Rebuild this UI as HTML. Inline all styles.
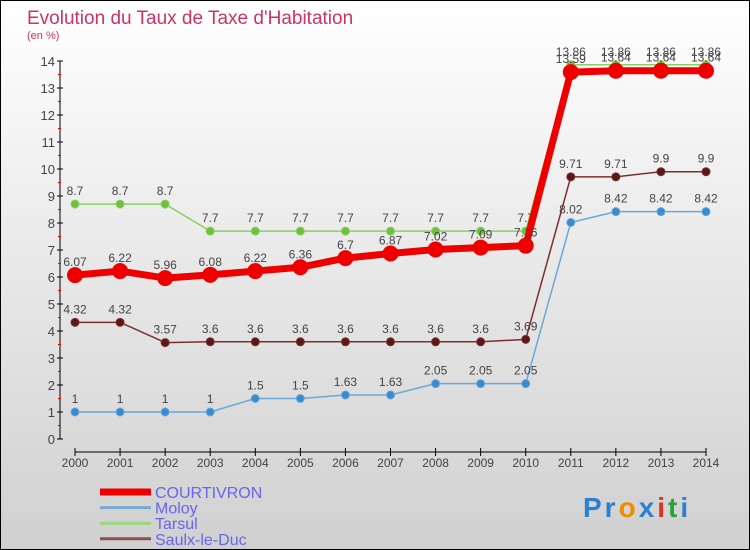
<!DOCTYPE html>
<html><head><meta charset="utf-8"><style>
body{margin:0;width:750px;height:550px;overflow:hidden;font-family:"Liberation Sans",sans-serif}
#wrap{position:relative;width:748px;height:548px;border:1px solid #000;background:linear-gradient(#ffffff,#d0d0d0)}
</style></head><body>
<div id="wrap">
<svg id="chart" width="750" height="550" style="position:absolute;left:-1px;top:-1px">
<text x="27" y="24" font-size="19" fill="#cc3366">Evolution du Taux de Taxe d'Habitation</text>
<text x="27" y="39" font-size="11" fill="#cc3366">(en %)</text>
<g id="axes"></g><g id="series"></g><g id="legend"></g>
<text x="583" y="517" font-size="28" font-weight="bold" letter-spacing="3"><tspan fill="#2a7fd4">Pr</tspan><tspan fill="#f08a00">o</tspan><tspan fill="#2a7fd4">x</tspan><tspan fill="#e03020">i</tspan><tspan fill="#2aa040">t</tspan><tspan fill="#2a7fd4">i</tspan></text>
</svg>
</div>
<script>
const years=[2000,2001,2002,2003,2004,2005,2006,2007,2008,2009,2010,2011,2012,2013,2014];
const courtivron=[6.07,6.22,5.96,6.08,6.22,6.36,6.7,6.87,7.02,7.09,7.16,13.59,13.64,13.64,13.64];
const moloy=[1,1,1,1,1.5,1.5,1.63,1.63,2.05,2.05,2.05,8.02,8.42,8.42,8.42];
const tarsul=[8.7,8.7,8.7,7.7,7.7,7.7,7.7,7.7,7.7,7.7,7.7,13.86,13.86,13.86,13.86];
const saulx=[4.32,4.32,3.57,3.6,3.6,3.6,3.6,3.6,3.6,3.6,3.69,9.71,9.71,9.9,9.9];
const yTicks=[0,1,2,3,4,5,6,7,8,9,10,11,12,13,14];
const seriesNames=["COURTIVRON","Moloy","Tarsul","Saulx-le-Duc"];
const NS="http://www.w3.org/2000/svg";
const x=i=>75+i*(706-75)/(years.length-1);
const y=v=>439-v*(439-61)/14;
function mk(tag,attrs,parent){const e=document.createElementNS(NS,tag);for(const k in attrs)e.setAttribute(k,attrs[k]);parent.appendChild(e);return e;}
const axes=document.getElementById('axes');
let a=mk('line',{x1:60,y1:y(0),x2:60,y2:y(14),stroke:'#000'},axes);


yTicks.forEach(t=>{
  mk('line',{x1:57,y1:y(t),x2:63,y2:y(t),stroke:'#000'},axes);
  if(t<14) mk('line',{x1:58,y1:y(t+0.5),x2:61,y2:y(t+0.5),stroke:'#e00'},axes);
  const l=mk('text',{x:55,y:y(t)+5,'font-size':13,fill:'#444','text-anchor':'end'},axes);l.textContent=t;
  
  
});
let xa=mk('line',{x1:75,y1:452,x2:706,y2:452,stroke:'#000'},axes);


years.forEach((yr,i)=>{
  mk('line',{x1:x(i),y1:448,x2:x(i),y2:456,stroke:'#000'},axes);
  const l=mk('text',{x:x(i),y:467,'font-size':12,fill:'#444','text-anchor':'middle'},axes);l.textContent=yr;
  
  
});
const ser=document.getElementById('series');
function draw(data,color,w,r,name,dotColor){
  const g=mk('g',{},ser);
  
  
  mk('polyline',{points:data.map((v,i)=>x(i)+','+y(v)).join(' '),fill:'none',stroke:color,'stroke-width':w,'stroke-linejoin':'round'},g);
  data.forEach((v,i)=>{
    const c=mk('circle',{cx:x(i),cy:y(v),r:r,fill:dotColor,stroke:color,'stroke-width':1},g);
    
    
    const t=mk('text',{x:x(i),y:y(v)-9,'font-size':12,fill:'#444','text-anchor':'middle'},g);t.textContent=v;
    
    
  });
}
draw(moloy,'#6aa8d8',1.5,4,'moloy','#3a8ad0');
draw(tarsul,'#88d060',1.5,4,'tarsul','#70c040');
draw(saulx,'#7a3030',1.5,4,'saulx-le-duc','#5a1818');
draw(courtivron,'#ee0000',7,7.5,'courtivron','#ee0000');
const lg=document.getElementById('legend');
const lcol=['#ee0000','#7aaad0','#98d878','#8a5050'];const lw=[7,3,3,3];
seriesNames.forEach((n,i)=>{
  const yy=492+i*15.6;
  const g=mk('g',{},lg);
  
  
  mk('line',{x1:100,y1:yy,x2:151,y2:yy,stroke:lcol[i],'stroke-width':lw[i]},g);
  const t=mk('text',{x:155,y:yy+6,'font-size':16,fill:'#6666ee'},g);t.textContent=n;
});
</script>
</body></html>
